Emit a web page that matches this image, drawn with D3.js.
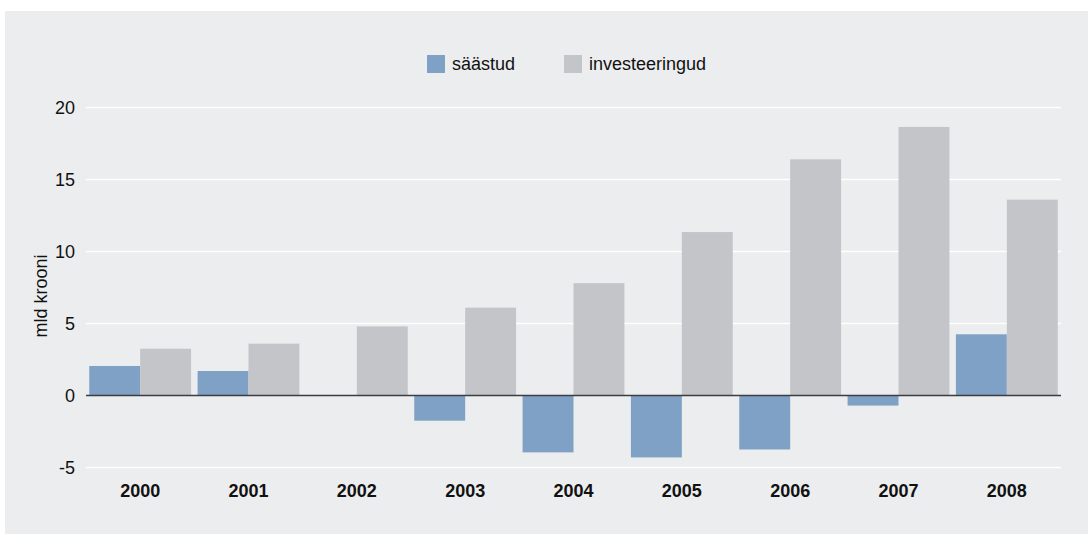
<!DOCTYPE html>
<html lang="et">
	<head>
		<meta charset="utf-8">
		<title>Säästud ja investeeringud</title>
		<script type="text/javascript" src="https://cdn.jsdelivr.net/npm/d3@7"></script>
		<style type="text/css">
		body { margin: 0; background: #fff; }
		text { font-family: "Liberation Sans", Arial, Helvetica, sans-serif; fill: #111; }
		</style>
	</head>
	<body>
		<script type="text/javascript">

		//Data
		var years = ["2000", "2001", "2002", "2003", "2004", "2005", "2006", "2007", "2008"];
		var saastud = [2.05, 1.7, 0, -1.75, -3.95, -4.3, -3.75, -0.7, 4.25];
		var investeeringud = [3.25, 3.6, 4.8, 6.1, 7.8, 11.35, 16.4, 18.65, 13.6];
		var yTicks = [-5, 0, 5, 10, 15, 20];
		var seriesNames = ["säästud", "investeeringud"];
		var seriesColors = ["#7fa1c5", "#c4c5c9"];

		var w = 1088;
		var h = 534;

		var svg = d3.select("body")
			.append("svg")
			.attr("width", w)
			.attr("height", h);

		//grey panel
		svg.append("rect")
			.attr("x", 5)
			.attr("y", 11)
			.attr("width", w - 5)
			.attr("height", h - 11)
			.attr("fill", "#ecedef");

		var x = d3.scaleBand()
			.domain(years)
			.range([86, 1061])
			.paddingInner(0.06)
			.paddingOuter(0.03);

		var xSub = d3.scaleBand()
			.domain([0, 1])
			.range([0, x.bandwidth()]);

		var y = d3.scaleLinear()
			.domain([-5, 20])
			.range([467.5, 107.5]);

		//gridlines + tick labels
		var yAxis = d3.axisLeft(y)
			.tickValues(yTicks)
			.tickFormat(function(d) { return String(d); })
			.tickSize(0)
			.tickPadding(0);

		var gy = svg.append("g")
			.attr("transform", "translate(75,0)")
			.call(yAxis);
		gy.select(".domain").remove();
		gy.selectAll("text")
			.style("font-size", "18px")
			.style("font-family", "'Liberation Sans', Arial, sans-serif")
			.attr("fill", "#111");

		svg.append("g")
			.selectAll("line")
			.data(yTicks.filter(function(d) { return d != 0; }))
			.enter()
			.append("line")
			.attr("x1", 86)
			.attr("x2", 1061)
			.attr("y1", function(d) { return y(d); })
			.attr("y2", function(d) { return y(d); })
			.attr("stroke", "#fff")
			.attr("stroke-width", 1.5);

		//bars
		var rows = years.map(function(yr, i) {
			return { year: yr, values: [saastud[i], investeeringud[i]] };
		});

		var groups = svg.selectAll(".grp")
			.data(rows)
			.enter()
			.append("g")
			.attr("class", "grp")
			.attr("transform", function(d) { return "translate(" + x(d.year) + ",0)"; });

		groups.selectAll("rect")
			.data(function(d) { return d.values; })
			.enter()
			.append("rect")
			.attr("x", function(d, i) { return xSub(i); })
			.attr("width", xSub.bandwidth())
			.attr("y", function(d) { return y(Math.max(0, d)); })
			.attr("height", function(d) { return Math.abs(y(d) - y(0)); })
			.attr("fill", function(d, i) { return seriesColors[i]; });

		//zero line
		svg.append("line")
			.attr("x1", 86)
			.attr("x2", 1061)
			.attr("y1", y(0))
			.attr("y2", y(0))
			.attr("stroke", "#3a3d42")
			.attr("stroke-width", 1.5);

		//year labels
		svg.append("g")
			.selectAll("text")
			.data(years)
			.enter()
			.append("text")
			.attr("x", function(d) { return x(d) + x.bandwidth() / 2; })
			.attr("y", 497)
			.attr("text-anchor", "middle")
			.style("font-size", "18px")
			.style("font-weight", "bold")
			.text(function(d) { return d; });

		//y title
		svg.append("text")
			.attr("transform", "translate(47,296) rotate(-90)")
			.attr("text-anchor", "middle")
			.style("font-size", "18px")
			.text("mld krooni");

		//legend
		var legX = [427, 564];
		var leg = svg.selectAll(".leg")
			.data(seriesNames)
			.enter()
			.append("g")
			.attr("class", "leg")
			.attr("transform", function(d, i) { return "translate(" + legX[i] + ",55)"; });
		leg.append("rect")
			.attr("width", 18)
			.attr("height", 18)
			.attr("fill", function(d, i) { return seriesColors[i]; });
		leg.append("text")
			.attr("x", 25)
			.attr("y", 15)
			.style("font-size", "18px")
			.text(function(d) { return d; });

		</script>
	</body>
</html>
